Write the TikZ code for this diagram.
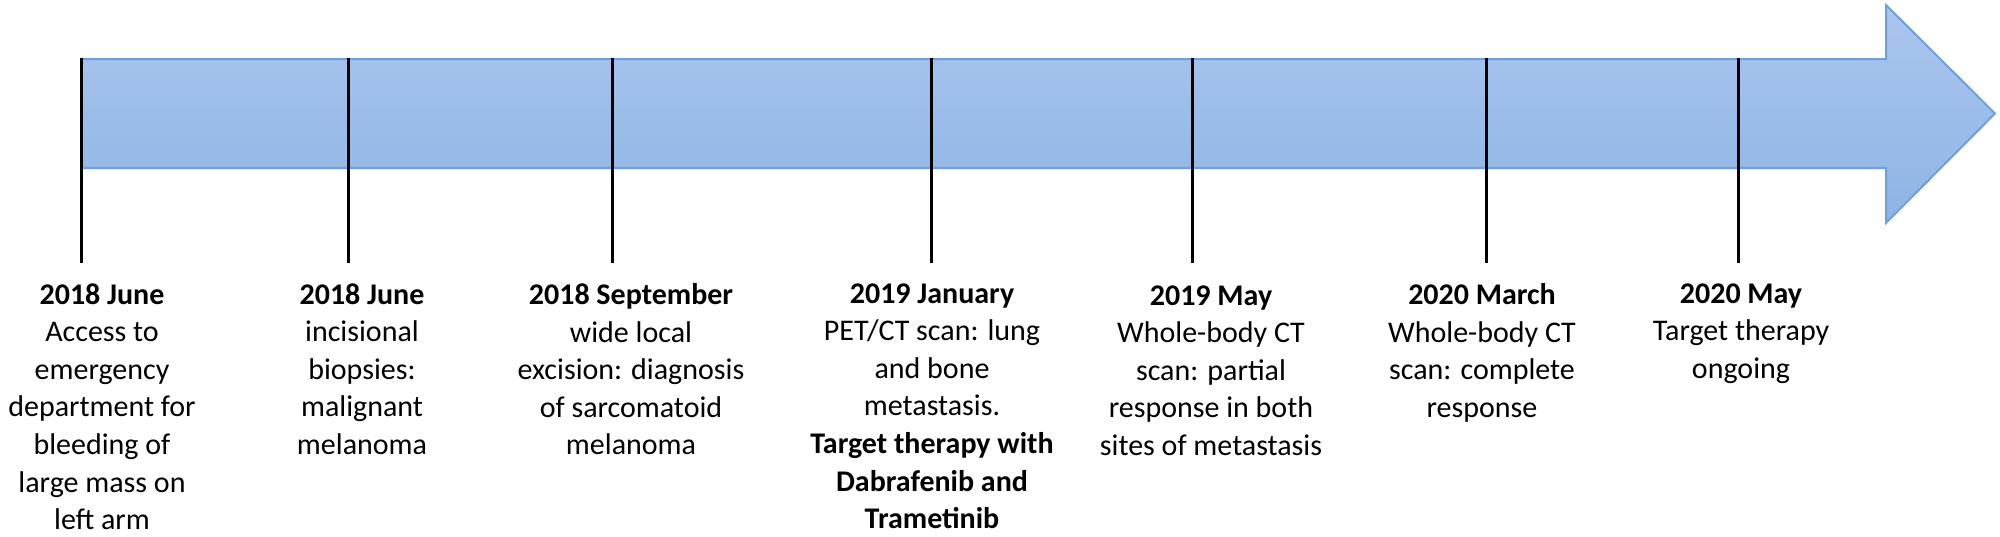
\documentclass[tikz,border=0pt]{standalone}
\usepackage{fontspec}
\setmainfont{Carlito}
\definecolor{bandtop}{HTML}{AAC6EE}
\definecolor{bandbot}{HTML}{8EB4E4}
\definecolor{bandedge}{HTML}{6FA0DC}
\begin{document}
\begin{tikzpicture}[x=0.5pt,y=-0.5pt,
  tick/.style={line width=1.5pt,black},
  evt/.style={anchor=north,align=center,inner sep=0pt,font=\fontsize{15}{18.8}\selectfont}]
\useasboundingbox (0,0) rectangle (2000,536);
% arrow band
\shade[top color=bandtop,bottom color=bandbot,draw=bandedge,line width=1pt]
  (81,59) -- (1886,59) -- (1886,5) -- (1995,113.5) -- (1886,223) -- (1886,168) -- (81,168) -- cycle;
% tick coordinates
\foreach \i/\x in {1/81,2/348,3/612,4/931,5/1192,6/1486,7/1738}{
  \coordinate (t\i) at (\x,58);
  \coordinate (b\i) at (\x,263);
}
\foreach \i in {1,...,7}{\draw[tick] (t\i) -- (b\i);}
% events
\node[evt] (e1) at (102,283) {\textbf{2018 June}\\Access to\\emergency\\department for\\bleeding of\\large mass on\\left arm};
\node[evt] (e2) at (362,283) {\textbf{2018 June}\\incisional\\biopsies:\\malignant\\melanoma};
\node[evt] (e3) at (631,283) {\textbf{2018 September}\\wide local\\excision: diagnosis\\of sarcomatoid\\melanoma};
\node[evt] (e4) at (932,283) {\textbf{2019 January}\\PET/CT scan: lung\\and bone\\metastasis.\\\textbf{Target therapy with}\\\textbf{Dabrafenib and}\\\textbf{Trametinib}};
\node[evt] (e5) at (1211,285) {\textbf{2019 May}\\Whole-body CT\\scan: partial\\response in both\\sites of metastasis};
\node[evt] (e6) at (1482,283) {\textbf{2020 March}\\Whole-body CT\\scan: complete\\response};
\node[evt] (e7) at (1741,283) {\textbf{2020 May}\\Target therapy\\ongoing};
\end{tikzpicture}
\end{document}
